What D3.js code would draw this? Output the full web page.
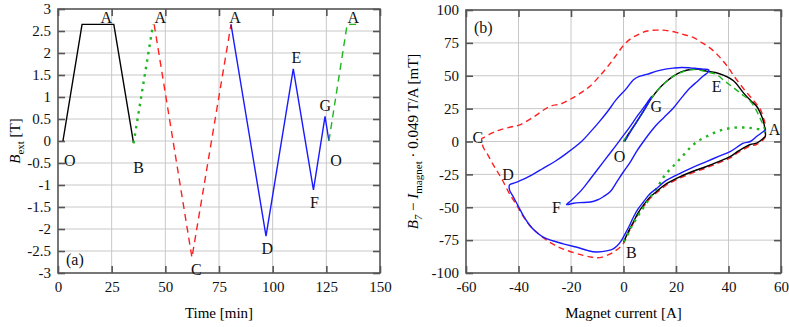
<!DOCTYPE html>
<html lang="en">
<head>
<meta charset="UTF-8">
<title>Field sweep and hysteresis</title>
<style>
  body { margin: 0; background: white; }
  svg text { font-family: "Liberation Serif", "Times New Roman", Times, serif !important; }
  .grid line { stroke: #c8c8c8; stroke-width: 1; }
  .axis path { display: none; }
  .axis line { stroke: #555; stroke-width: 1.6; }
  .axis text { font-size: 15px; fill: #111; }
  .frame { fill: none; stroke: #555; stroke-width: 1.6; }
  .pt { font-size: 16px; fill: #111; }
</style>
</head>
<body>
<div id="chart"></div>
<script src="https://d3js.org/d3.v7.min.js"></script>
<script>

// ---- panel (a): B_ext versus time, one array pair per segment
var blackT = [2.3, 11.2, 26, 35.2];
var blackB = [0, 2.65, 2.65, -0.05];
var greenDotT = [35.2, 44.3];
var greenDotB = [-0.05, 2.65];
var redT = [44.8, 62.4, 80.6];
var redB = [2.65, -2.65, 2.65];
var blueT = [80.6, 96.9, 109.6, 119, 124.4, 126.2];
var blueB = [2.65, -2.16, 1.64, -1.11, 0.56, 0];
var greenDashT = [126.2, 134.7, 139.3];
var greenDashB = [0, 2.65, 2.65];

var timeTicks = [0, 25, 50, 75, 100, 125, 150];
var bTicks = [-3, -2.5, -2, -1.5, -1, -0.5, 0, 0.5, 1, 1.5, 2, 2.5, 3];

// labels of the turning points in (a): [time, B, text]
var labelsA = [
  [5.5, -0.45, "O"], [22.5, 2.82, "A"], [47.7, 2.82, "A"], [37.5, -0.6, "B"],
  [64.5, -2.92, "C"], [82.5, 2.82, "A"], [97.5, -2.45, "D"], [111, 1.9, "E"],
  [119.5, -1.4, "F"], [124.5, 0.8, "G"], [129.5, -0.45, "O"], [137.5, 2.82, "A"]
];

// ---- panel (b): B7 - I*0.049 T/A versus magnet current
var blackI = [0, 3, 6, 10.7, 13, 16, 19, 22, 25.4, 28.5, 31.6, 35, 38, 42, 45.7, 48.5, 50.7, 52.5, 53.3, 54, 54,
  53.3, 50.7, 48.3, 44, 40.6, 36, 31.6, 26, 20.2, 16, 12.6, 10, 7.6, 5.5, 3.8, 2, 0];
var blackM = [0, 9, 18, 33, 39, 45, 49.7, 53, 54.8, 55, 53.5, 52.5, 50.5, 46, 37, 31, 26.8, 20, 15.3, 8, 3.8,
  2.5, -1.3, -2.3, -7, -11.5, -15.5, -19, -23, -28, -32.5, -38, -42.5, -48.4, -54.5, -61, -68, -76.5];

var redI = [54, 53.3, 50.7, 48.3, 44, 40.6, 36, 31.6, 26, 20.2, 16, 12.6, 10, 7.6, 5.5, 3.8, 2, 0, -1.1, -3, -5,
  -9, -12, -15.4, -21.7, -26, -29.3, -32.5, -35.8, -38.5, -40.8, -43.5, -45.8, -48, -49.6, -52, -53.3, -54, -54,
  -53.3, -50, -47, -43, -39.5, -34, -28, -24, -20.5, -17, -12.8, -9, -6, -3, 0, 3, 6.3, 9, 12.6, 16, 20, 23.5,
  26.7, 30, 33, 36, 38, 40, 42, 45, 48.3, 50, 52, 53.3, 54, 54];
var redM = [4, 1.5, -2.3, -3.3, -8, -12.5, -16.5, -20, -24, -29, -33.5, -39, -43.5, -49.5, -55.5, -62, -69, -77.5,
  -80, -83, -85.5, -88.3, -88, -86.6, -82.7, -79, -75, -70, -63.7, -56, -48, -39.5, -30.6, -23, -17.8, -9, -5, 0, 2,
  3, 6.5, 8.9, 11, 12.7, 19, 26.8, 28.5, 31.9, 36, 42, 50, 57, 65, 73, 78.5, 82, 84, 84.7, 84.5, 83, 81,
  79, 75, 71, 65.5, 61, 56, 50, 42, 34, 30, 25, 18, 13, 5];

var greenDotI = [0, 1, 3, 5.7, 8, 10.7, 13.5, 16, 19.8, 23, 26, 28.5, 31.6, 35, 38, 41, 44, 47, 49.5, 53.3, 54];
var greenDotM = [-76, -73, -65, -56, -49, -41, -33, -25, -17, -10, -3.5, 0.5, 3.8, 7, 9, 10.3, 10.7, 10.5, 10, 8.4, 7];

var greenDashI = [0, 3, 6, 10.7, 13, 16, 19, 22, 25.4, 28.5, 31.6, 35.4, 38.5, 42, 45, 48.3, 50.5, 52, 53.3, 54];
var greenDashM = [0, 9, 18, 33, 39, 45, 49.5, 52.5, 54.5, 54.5, 53, 51, 46, 40.8, 36, 30.6, 24, 17.8, 12, 7];

var blueI = [54, 53.3, 50.7, 48.3, 45.7, 40.6, 36, 31.6, 26, 20.2, 16, 12.6, 10, 7.6, 5.5, 3.8, 2, 0.4, -1, -2.5,
  -3.9, -6, -10.3, -13.5, -16.8, -23, -27, -30.6, -33.5, -35.8, -38, -39.6, -42, -43.4, -43.4,
  -41.5, -39.6, -35, -30.6, -26, -21.7, -16, -12.5, -9.1, -6, -2.7, 1, 3.8, 6, 8.8, 12.6, 16, 19, 22, 25.4, 28,
  30.5, 32.4, 32.4,
  30.5, 28, 25.4, 22, 19, 15.5, 12.6, 10, 7.6, 5, 2.7, 0, -2.5, -5, -7.7, -10, -12.6, -16.6, -19, -21.7,
  -20, -16, -12.6, -7.6, -4, -1, 2, 5.5, 8.5, 10.7,
  8.5, 5.5, 2.5, 0.5];
var blueM = [9, 7.6, 3.8, 0, -1.3, -7.7, -11.5, -15.3, -20, -25.5, -30, -35.7, -40, -46, -51.5, -57.4, -65, -71, -76,
  -79.5, -81.6, -83, -84, -83, -81, -77.8, -75.5, -72.7, -68.5, -63.5, -57, -51, -42, -37, -33,
  -31.5, -30, -25.5, -20.4, -15, -9, 0, 7.5, 15.3, 23, 32, 40, 47, 49.5, 51, 53.5, 55, 55.8, 56.3, 56, 55.5,
  55, 54.5, 53,
  50, 45.5, 40.8, 33, 25.5, 18.5, 12.8, 6.5, 0, -7.5, -15.3, -23, -30.5, -38, -42, -44.5, -46, -46.5, -47, -48,
  -45, -37, -28.3, -15.3, -6, 2, 10, 20, 28, 34.4,
  26, 16.5, 7, 0];

var currentTicks = [-60, -40, -20, 0, 20, 40, 60];
var mTicks = [-100, -75, -50, -25, 0, 25, 50, 75, 100];

var labelsB = [
  [-55.5, 3, "C"], [-44, -25, "D"], [-25.5, -50, "F"], [-1.5, -11, "O"],
  [12.5, 27, "G"], [35.5, 42, "E"], [57.5, 9, "A"], [3, -84, "B"]
];

var serif = "'Liberation Serif', 'Times New Roman', Times, serif";

var svg = d3.select("#chart").append("svg")
  .attr("width", 789)
  .attr("height", 327)
  .attr("font-family", serif);

function zip(a, b) { return a.map(function (d, i) { return [d, b[i]]; }); }

function drawPanel(x, y, xTicks, yTicks) {
  var g = svg.append("g");
  var x0 = x.range()[0], x1 = x.range()[1], y0 = y.range()[0], y1 = y.range()[1];
  // grid
  var grid = g.append("g").attr("class", "grid");
  grid.selectAll(".gx").data(xTicks.slice(1, -1)).enter().append("line")
    .attr("x1", x).attr("x2", x).attr("y1", y0).attr("y2", y1);
  grid.selectAll(".gy").data(yTicks.slice(1, -1)).enter().append("line")
    .attr("y1", y).attr("y2", y).attr("x1", x0).attr("x2", x1);
  var fmt = function (d) { return String(d); };
  g.append("g").attr("class", "axis").attr("transform", "translate(0," + y0 + ")")
    .call(d3.axisBottom(x).tickValues(xTicks).tickSize(-7).tickPadding(8).tickFormat(fmt));
  g.append("g").attr("class", "axis").attr("transform", "translate(0," + y1 + ")")
    .call(d3.axisTop(x).tickValues(xTicks).tickSize(-7).tickFormat(""));
  g.append("g").attr("class", "axis").attr("transform", "translate(" + x0 + ",0)")
    .call(d3.axisLeft(y).tickValues(yTicks).tickSize(-7).tickPadding(7).tickFormat(fmt));
  g.append("g").attr("class", "axis").attr("transform", "translate(" + x1 + ",0)")
    .call(d3.axisRight(y).tickValues(yTicks).tickSize(-7).tickFormat(""));
  g.selectAll(".axis").attr("font-family", serif).attr("font-size", 15);
  return g;
}

function drawFrame(g, x, y) {
  g.append("rect").attr("class", "frame")
    .attr("x", x.range()[0]).attr("y", y.range()[1])
    .attr("width", x.range()[1] - x.range()[0])
    .attr("height", y.range()[0] - y.range()[1]);
}

function series(g, line, xs, ys, color, dash, w) {
  g.append("path")
    .attr("d", line(zip(xs, ys)))
    .attr("fill", "none")
    .attr("stroke", color)
    .attr("stroke-width", w || 1.4)
    .attr("stroke-dasharray", dash || null);
}

// ---------- panel (a)
var xa = d3.scaleLinear().domain([0, 150]).range([58, 380]);
var ya = d3.scaleLinear().domain([-3, 3]).range([273, 9]);
var ga = drawPanel(xa, ya, timeTicks, bTicks);
var lineA = d3.line().x(function (d) { return xa(d[0]); }).y(function (d) { return ya(d[1]); });
series(ga, lineA, blackT, blackB, "#000");
series(ga, lineA, greenDotT, greenDotB, "#1fb51f", "2.5,5", 2.4);
series(ga, lineA, redT, redB, "#ff2020", "7,5");
series(ga, lineA, blueT, blueB, "#1a1aff");
series(ga, lineA, greenDashT, greenDashB, "#1fb51f", "7,5");
drawFrame(ga, xa, ya);
ga.selectAll(".pt").data(labelsA).enter().append("text").attr("class", "pt")
  .attr("x", function (d) { return xa(d[0]); })
  .attr("y", function (d) { return ya(d[1]); })
  .attr("text-anchor", "middle").attr("dy", "0.35em")
  .text(function (d) { return d[2]; });
ga.append("text").attr("class", "pt").attr("x", 66).attr("y", 265).text("(a)");
ga.append("text").attr("x", xa(75)).attr("y", 318).attr("text-anchor", "middle")
  .style("font-size", "15px").text("Time [min]");
var la = ga.append("text").attr("transform", "translate(20," + ya(0) + ") rotate(-90)")
  .attr("text-anchor", "middle").style("font-size", "15px");
la.append("tspan").style("font-style", "italic").text("B");
la.append("tspan").attr("dy", 4).style("font-size", "11px").text("ext");
la.append("tspan").attr("dy", -4).text(" [T]");

// ---------- panel (b)
var xb = d3.scaleLinear().domain([-60, 60]).range([466, 781]);
var yb = d3.scaleLinear().domain([-100, 100]).range([273, 10]);
var gb = drawPanel(xb, yb, currentTicks, mTicks);
var lineB = d3.line().x(function (d) { return xb(d[0]); }).y(function (d) { return yb(d[1]); })
  .curve(d3.curveCatmullRom.alpha(0.5));
series(gb, lineB, redI, redM, "#ff2020", "6,4");
series(gb, lineB, blackI, blackM, "#000");
series(gb, lineB, greenDotI, greenDotM, "#1fb51f", "2.5,5", 2.4);
series(gb, lineB, greenDashI, greenDashM, "#1fb51f", "6,4");
series(gb, lineB, blueI, blueM, "#1a1aff");
drawFrame(gb, xb, yb);
gb.selectAll(".pt").data(labelsB).enter().append("text").attr("class", "pt")
  .attr("x", function (d) { return xb(d[0]); })
  .attr("y", function (d) { return yb(d[1]); })
  .attr("text-anchor", "middle").attr("dy", "0.35em")
  .text(function (d) { return d[2]; });
gb.append("text").attr("class", "pt").attr("x", 474).attr("y", 33).text("(b)");
gb.append("text").attr("x", xb(0)).attr("y", 318).attr("text-anchor", "middle")
  .style("font-size", "15px").text("Magnet current [A]");
var lb = gb.append("text").attr("transform", "translate(418," + yb(0) + ") rotate(-90)")
  .attr("text-anchor", "middle").style("font-size", "15px");
lb.append("tspan").style("font-style", "italic").text("B");
lb.append("tspan").attr("dy", 4).style("font-size", "11px").style("font-style", "italic").text("7");
lb.append("tspan").attr("dy", -4).text(" \u2212 ");
lb.append("tspan").style("font-style", "italic").text("I");
lb.append("tspan").attr("dy", 4).style("font-size", "11px").text("magnet");
lb.append("tspan").attr("dy", -4).text(" \u00b7 0.049 T/A  [mT]");

</script>
</body>
</html>
